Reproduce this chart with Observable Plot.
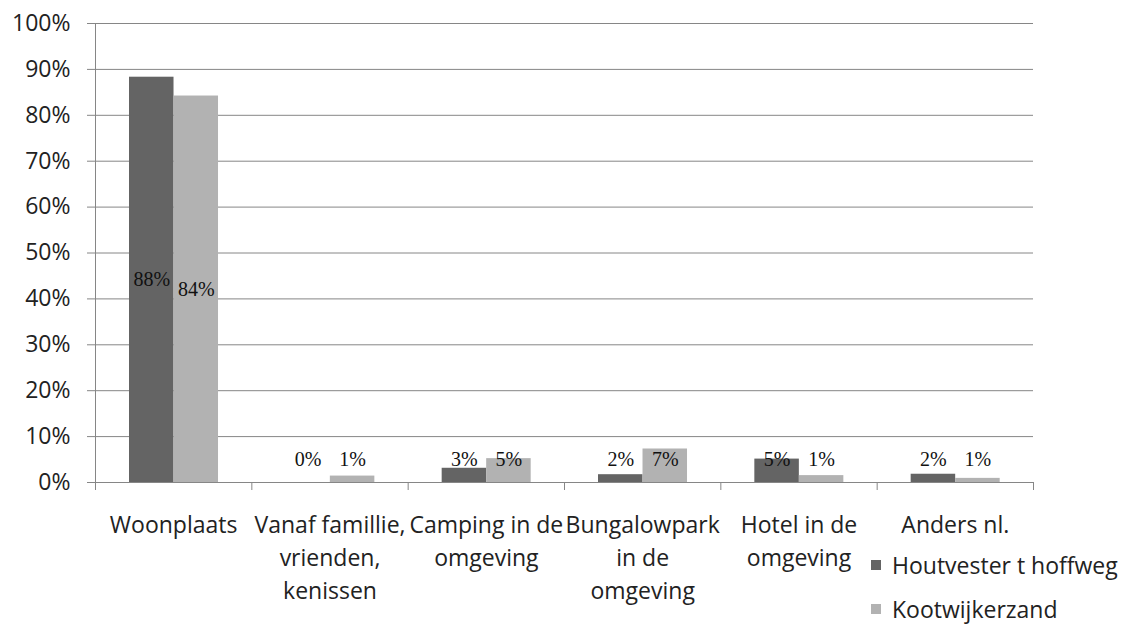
<!DOCTYPE html>
<html>
<head>
<meta charset="utf-8">
<script src="https://cdn.jsdelivr.net/npm/d3@7"></script>
<script src="https://cdn.jsdelivr.net/npm/@observablehq/plot@0.6"></script>
<style>
  html, body { margin: 0; padding: 0; background: #fff; }
  #wrap { position: relative; width: 1123px; height: 625px; }
  #legend { position: absolute; left: 871px; top: 552px; font-family: "Open Sans", sans-serif; font-size: 23px; color: #222; }
  #legend .item { display: flex; align-items: center; height: 26px; margin-bottom: 18px; }
  #legend .sw { width: 10px; height: 10px; margin-right: 11px; }
</style>
</head>
<body>
<div id="wrap"><div id="legend"></div></div>
<script>
const categories = ["Woonplaats", "Vanaf famillie,\nvrienden,\nkenissen", "Camping in de\nomgeving", "Bungalowpark\nin de\nomgeving", "Hotel in de\nomgeving", "Anders nl."];
const seriesNames = ["Houtvester t hoffweg", "Kootwijkerzand"];
const houtvester = [88.3, 0, 3.1, 1.7, 5.1, 1.8];
const kootwijkerzand = [84.2, 1.4, 5.2, 7.3, 1.5, 0.9];
const houtvesterLabels = ["88%", "0%", "3%", "2%", "5%", "2%"];
const kootwijkerzandLabels = ["84%", "1%", "5%", "7%", "1%", "1%"];
const yTicks = [0, 10, 20, 30, 40, 50, 60, 70, 80, 90, 100];
const colors = ["#646464", "#b2b2b2"];

const groupStart = 0.2175, barW = 0.2847;
const rows = [];
categories.forEach((c, i) => {
  rows.push({i, category: c, series: seriesNames[0], s: 0, value: houtvester[i], label: houtvesterLabels[i]});
  rows.push({i, category: c, series: seriesNames[1], s: 1, value: kootwijkerzand[i], label: kootwijkerzandLabels[i]});
});
const left = d => d.i + groupStart + d.s * barW;

const grid = "#868686";
const chart = Plot.plot({
  width: 1123,
  height: 625,
  marginLeft: 95,
  marginRight: 90,
  marginTop: 23,
  marginBottom: 143,
  style: {fontFamily: "'Open Sans', sans-serif", fontSize: "23px", color: "#222", background: "#fff"},
  x: {type: "linear", domain: [0, categories.length]},
  y: {domain: [0, 100]},
  color: {domain: seriesNames, range: colors},
  marks: [
    Plot.ruleY(yTicks, {stroke: grid, strokeWidth: 1}),
    Plot.ruleX([0], {y1: 0, y2: 100, stroke: grid}),
    Plot.axisY({ticks: yTicks, tickSize: 8, tickPadding: 17, tickFormat: d => d + "%", stroke: grid, fill: "#222", label: null, fontSize: 23}),
    Plot.axisX({ticks: d3.range(categories.length + 1), tickSize: 8, tickFormat: () => "", stroke: grid, label: null}),
    Plot.axisX({ticks: d3.range(categories.length).map(i => i + 0.5), tickSize: 0, tickPadding: 27, tickFormat: v => categories[Math.floor(v)], lineHeight: 1.43, fill: "#222", label: null, fontSize: 23}),
    Plot.rectY(rows, {x1: left, x2: d => left(d) + barW, y1: 0, y2: "value", fill: "series"}),
    Plot.text(rows, {x: d => left(d) + barW / 2, y: d => Math.max(d.value / 2, 5), text: "label", fontFamily: "'Liberation Serif', serif", fontSize: 20, fill: "#111"})
  ]
});
const wrap = document.getElementById("wrap");
wrap.insertBefore(chart, wrap.firstChild);

const legend = d3.select("#legend");
seriesNames.forEach((s, k) => {
  const it = legend.append("div").attr("class", "item");
  it.append("div").attr("class", "sw").style("background", colors[k]);
  it.append("span").text(s);
});
</script>
</body>
</html>
